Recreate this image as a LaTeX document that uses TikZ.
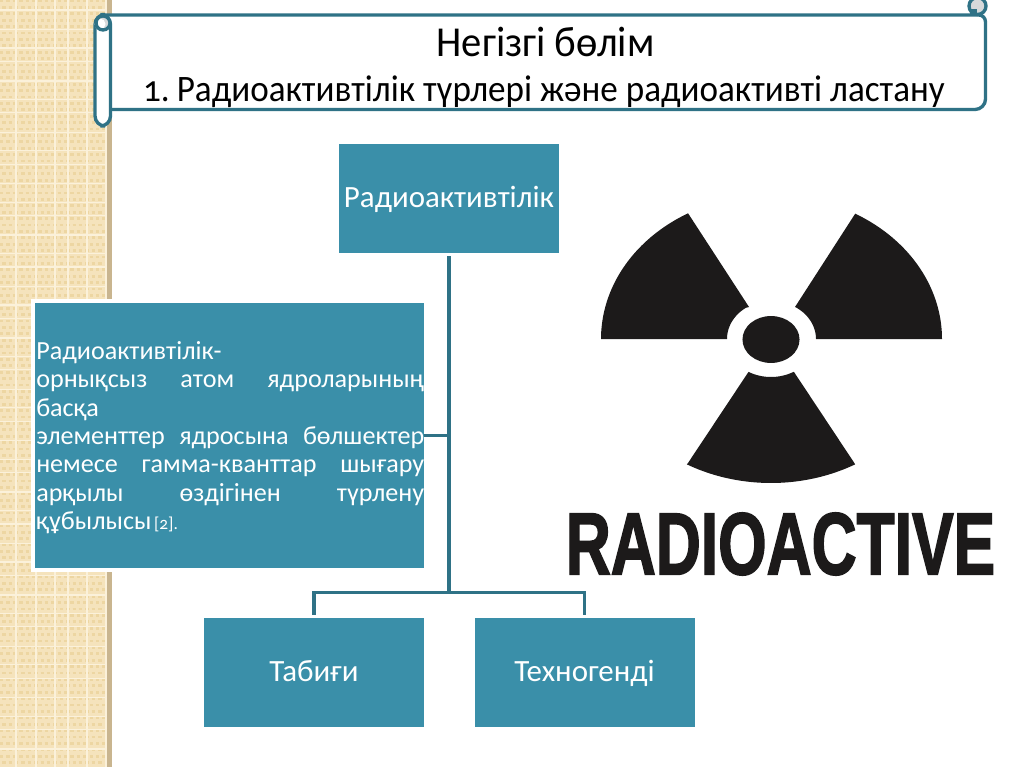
\documentclass[tikz,border=0pt]{standalone}
\usepackage{fontspec}
\usepackage{graphicx}
\setmainfont{Carlito}
\newfontfamily\oldnum[Numbers=OldStyle]{Carlito}
\newfontfamily\arialb[FakeBold=2.2]{Liberation Sans Bold}
\definecolor{boxblue}{HTML}{3A8FA9}
\definecolor{linecol}{HTML}{2F7286}
\definecolor{stripbase}{HTML}{F5E3BC}
\definecolor{stripdot}{HTML}{EDD6A2}
\definecolor{stripline}{HTML}{FBF1DA}
\definecolor{stripedge}{HTML}{C9B58F}
\definecolor{scrollgrey}{HTML}{D6D9DA}
\definecolor{signblack}{HTML}{1C1A1A}
\newcommand{\jline}[1]{\hbox to 291pt{#1}}
\tikzset{
  bluebox/.style={rectangle,fill=boxblue,text=white,inner sep=0pt,minimum width=165pt,minimum height=81.5pt,text height=16pt,text depth=1.8pt,font=\fontsize{23.2pt}{27pt}\selectfont},
  conn/.style={draw=linecol,line width=2.3pt},
  scrollline/.style={draw=linecol,line width=2.5pt},
  titletext/.style={text=black,inner sep=0pt,anchor=base}
}
\begin{document}
\begin{tikzpicture}[x=0.75pt,y=-0.75pt]
\useasboundingbox (0,0) rectangle (1024,767);
\fill[white] (0,0) rectangle (1024,767);
% textured strip
\begin{scope}
\clip (0,0) rectangle (112,767);
\fill[stripbase] (0,0) rectangle (112,767);
\foreach \r in {0,...,120}{
  \pgfmathsetmacro{\yy}{\r*6.4+1}
  \pgfmathsetmacro{\dd}{mod(\r,2)*3.2}
  \draw[stripdot,line width=2.1pt,dash pattern=on 2.6pt off 2.2pt,dash phase=\dd pt] (0,\yy) -- (112,\yy);
}
\foreach \k in {0,...,14}{
  \foreach \o in {10,29.5,48}{
    \pgfmathsetmacro{\yy}{\k*51.4+\o}
    \draw[stripline,line width=1pt] (0,\yy) -- (107,\yy);
  }
}
\foreach \xx in {16,36,55,68,87,106}{
  \draw[stripline,line width=1pt] (\xx,0) -- (\xx,767);
}
\fill[stripedge] (107,0) rectangle (112,767);
\end{scope}
% scroll banner
\fill[white] (108,15) rectangle (985,110);
\draw[scrollline,line join=round] (103,15) -- (979,15) to[out=0,in=90] (985.5,22) -- (985.5,99) to[out=-90,in=0] (975,109.5) -- (110,109.5);
\draw[scrollline,fill=white,rounded corners=7.5pt] (95,14.5) rectangle (110.5,126);
\fill[scrollgrey] (103,23) circle[radius=6];
\fill[white] (100,24) circle[radius=5.5];
\draw[scrollline] (103,23) circle[radius=7];
\begin{scope}
\clip (960,0) rectangle (992,16.5);
\fill[scrollgrey] (977.5,6) circle[radius=9];
\fill[linecol] (970,9) rectangle (977,15);
\draw[scrollline] (977.5,6) circle[radius=8.5];
\end{scope}
% title
\node[titletext,font=\fontsize{32pt}{36pt}\selectfont] (title1) at (545.5,57) {\scalebox{0.95}[1]{Негізгі бөлім}};
\node[titletext,font=\fontsize{28pt}{32pt}\selectfont] (title2) at (544,101) {\scalebox{0.94}[1]{{\oldnum 1.}\hspace{-0.1em} Радиоактивтілік түрлері және радиоактивті ластану}};
% halo and boxes
\fill[white] (31,299) rectangle (428,572);
\node[bluebox] (top) at (449,198.5) {Радиоактивтілік};
\node[rectangle,fill=boxblue,inner sep=0pt,minimum width=291.75pt,minimum height=198.75pt] (def) at (229.5,435.5) {};
\node[text=white,inner sep=0pt,anchor=north west,align=left,font=\fontsize{19.6pt}{21.2pt}\selectfont] (deftext) at (36,341) {%
\vbox{\baselineskip=21.3pt
\jline{Радиоактивтілік-\hfil}
\jline{орнықсыз\hfil атом\hfil ядроларының}
\jline{басқа\hfil}
\jline{элементтер\hfil ядросына\hfil бөлшектер}
\jline{немесе\hfil гамма-кванттар\hfil шығару}
\jline{арқылы\hfil өздігінен\hfil түрлену}
\jline{құбылысы\hspace{0.1em}{\fontsize{13pt}{14pt}\selectfont\oldnum [2].}\hfil}}};
\node[bluebox] (nat) at (314,672.5) {Табиғи};
\node[bluebox] (tech) at (584.5,672.5) {Техногенді};
% connectors
\coordinate (bus) at (449,592.5);
\draw[conn,shorten <=2.5pt] (top.south) -- (bus);
\draw[conn] (def.east) -- (def.east -| bus);
\draw[conn,line join=miter,shorten <=2.25pt,shorten >=2.25pt] (nat.north) -- (nat.north |- bus) -- (tech.north |- bus) -- (tech.north);
% radiation sign
\fill[signblack] (601,339) -- plot[domain=180:119.2,samples=40,variable=\t] ({771+170*cos(\t)},{339-144*sin(\t)}) -- (749,307) -- plot[domain=125:180,samples=16,variable=\t] ({771+44*cos(\t)},{339-38*sin(\t)}) -- cycle;
\fill[signblack] (942,339) -- plot[domain=0:60.5,samples=40,variable=\t] ({771+171*cos(\t)},{339-144*sin(\t)}) -- (795,307) -- plot[domain=55:0,samples=16,variable=\t] ({771+45*cos(\t)},{339-38*sin(\t)}) -- cycle;
\fill[signblack] (688,463) -- plot[domain=240.5:299.5,samples=40,variable=\t] ({771+171*cos(\t)},{339-144*sin(\t)}) -- (794,372) -- plot[domain=300:240,samples=16,variable=\t] ({771+45*cos(\t)},{339-38*sin(\t)}) -- cycle;
\fill[signblack] (771,339.5) ellipse[x radius=21.4pt,y radius=17.6pt];
\node[inner sep=0pt,text=signblack] (signword) at (780.5,544) {\resizebox{322pt}{46pt}{\arialb RADIOACTIVE}};
\end{tikzpicture}
\end{document}
